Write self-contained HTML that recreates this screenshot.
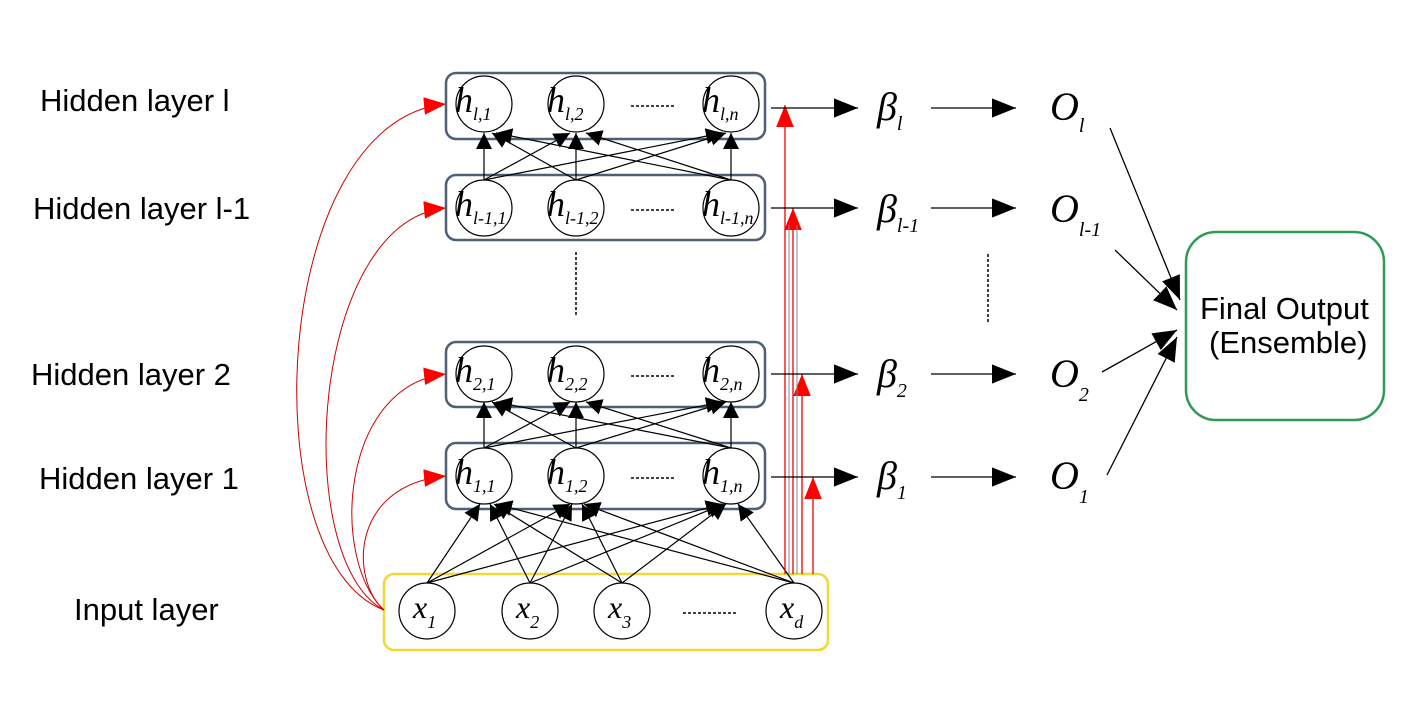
<!DOCTYPE html>
<html><head><meta charset="utf-8"><style>
html,body{margin:0;padding:0;background:#fff;}
svg{display:block}
.lbl{font-family:"Liberation Sans",sans-serif;font-size:31px;fill:#000}
.m{font-family:"Liberation Serif",serif;font-style:italic;fill:#000}
</style></head><body>
<svg width="1417" height="709" viewBox="0 0 1417 709" xmlns="http://www.w3.org/2000/svg">
<defs>
<marker id="a" viewBox="0 0 10 10" refX="10" refY="5" markerWidth="16" markerHeight="16" markerUnits="userSpaceOnUse" orient="auto"><path d="M0,0L10,5L0,10z" fill="#000"/></marker>
<marker id="b" viewBox="0 0 10 10" refX="10" refY="5" markerWidth="24" markerHeight="24" markerUnits="userSpaceOnUse" orient="auto"><path d="M0,1L10,5L0,9z" fill="#000"/></marker>
<marker id="r" viewBox="0 0 10 10" refX="10" refY="5" markerWidth="22" markerHeight="22" markerUnits="userSpaceOnUse" orient="auto"><path d="M0,1L10,5L0,9z" fill="#f00"/></marker>
</defs>
<rect width="1417" height="709" fill="#fff"/>
<g class="lbl">
<text x="40" y="111">Hidden layer l</text>
<text x="33" y="219">Hidden layer l-1</text>
<text x="31" y="385">Hidden layer 2</text>
<text x="39" y="489">Hidden layer 1</text>
<text x="74" y="620">Input layer</text>
</g>
<g fill="none" stroke="#4f5f75" stroke-width="2.5">
<rect x="446" y="73" width="319" height="66" rx="10"/>
<rect x="446" y="175" width="319" height="65" rx="10"/>
<rect x="446" y="342" width="319" height="65" rx="10"/>
<rect x="446" y="443" width="319" height="66" rx="10"/>
</g>
<rect x="384" y="574" width="444" height="76" rx="10" fill="none" stroke="#f0d838" stroke-width="2.5"/>
<rect x="1186" y="232" width="198" height="188" rx="30" fill="none" stroke="#2e9a55" stroke-width="2.5"/>
<g stroke="#000" stroke-width="1.2" marker-end="url(#a)">
<line x1="484" y1="180" x2="484" y2="133"/><line x1="484" y1="180" x2="570" y2="133"/><line x1="484" y1="180" x2="722" y2="133"/>
<line x1="576" y1="180" x2="492" y2="133"/><line x1="576" y1="180" x2="576" y2="133"/><line x1="576" y1="180" x2="726" y2="133"/>
<line x1="731" y1="180" x2="496" y2="133"/><line x1="731" y1="180" x2="586" y2="133"/><line x1="731" y1="180" x2="731" y2="133"/>
<line x1="484" y1="448" x2="484" y2="402"/><line x1="484" y1="448" x2="570" y2="402"/><line x1="484" y1="448" x2="722" y2="402"/>
<line x1="576" y1="448" x2="492" y2="402"/><line x1="576" y1="448" x2="576" y2="402"/><line x1="576" y1="448" x2="726" y2="402"/>
<line x1="731" y1="448" x2="496" y2="402"/><line x1="731" y1="448" x2="586" y2="402"/><line x1="731" y1="448" x2="731" y2="402"/>
<line x1="427" y1="583" x2="480" y2="504"/><line x1="427" y1="583" x2="570" y2="504"/><line x1="427" y1="583" x2="722" y2="504"/>
<line x1="530" y1="583" x2="490" y2="504"/><line x1="530" y1="583" x2="572" y2="504"/><line x1="530" y1="583" x2="724" y2="504"/>
<line x1="622" y1="583" x2="494" y2="504"/><line x1="622" y1="583" x2="582" y2="504"/><line x1="622" y1="583" x2="726" y2="504"/>
<line x1="794" y1="583" x2="496" y2="504"/><line x1="794" y1="583" x2="584" y2="504"/><line x1="794" y1="583" x2="738" y2="504"/>
</g>
<g fill="#fff" stroke="#000" stroke-width="1.2">
<circle cx="484" cy="104" r="28"/><circle cx="576" cy="104" r="28"/><circle cx="731" cy="104" r="28"/>
<circle cx="484" cy="208" r="28"/><circle cx="576" cy="208" r="28"/><circle cx="731" cy="208" r="28"/>
<circle cx="484" cy="374" r="28"/><circle cx="576" cy="374" r="28"/><circle cx="731" cy="374" r="28"/>
<circle cx="484" cy="476" r="28"/><circle cx="576" cy="476" r="28"/><circle cx="731" cy="476" r="28"/>
<circle cx="427" cy="611" r="28"/><circle cx="530" cy="611" r="28"/><circle cx="622" cy="611" r="28"/><circle cx="794" cy="611" r="28"/>
</g>
<g class="m" font-size="36">
<text x="455" y="112">h<tspan font-size="18" dy="8">l,1</tspan></text>
<text x="547" y="112">h<tspan font-size="18" dy="8">l,2</tspan></text>
<text x="702" y="112">h<tspan font-size="18" dy="8">l,n</tspan></text>
<text x="455" y="216">h<tspan font-size="18" dy="8">l-1,1</tspan></text>
<text x="547" y="216">h<tspan font-size="18" dy="8">l-1,2</tspan></text>
<text x="702" y="216">h<tspan font-size="18" dy="8">l-1,n</tspan></text>
<text x="455" y="382">h<tspan font-size="18" dy="8">2,1</tspan></text>
<text x="547" y="382">h<tspan font-size="18" dy="8">2,2</tspan></text>
<text x="702" y="382">h<tspan font-size="18" dy="8">2,n</tspan></text>
<text x="455" y="484">h<tspan font-size="18" dy="8">1,1</tspan></text>
<text x="547" y="484">h<tspan font-size="18" dy="8">1,2</tspan></text>
<text x="702" y="484">h<tspan font-size="18" dy="8">1,n</tspan></text>
<text x="413" y="618" font-size="32">x<tspan font-size="18" dy="10">1</tspan></text>
<text x="516" y="618" font-size="32">x<tspan font-size="18" dy="10">2</tspan></text>
<text x="608" y="618" font-size="32">x<tspan font-size="18" dy="10">3</tspan></text>
<text x="780" y="618" font-size="32">x<tspan font-size="18" dy="10">d</tspan></text>
</g>
<g stroke="#000" stroke-width="1.5" stroke-dasharray="3,2">
<line x1="631" y1="106" x2="676" y2="106"/><line x1="631" y1="210" x2="676" y2="210"/>
<line x1="631" y1="376" x2="676" y2="376"/><line x1="631" y1="478" x2="676" y2="478"/>
<line x1="683" y1="613" x2="738" y2="613"/>
<line x1="576" y1="252" x2="576" y2="316"/><line x1="988" y1="254" x2="988" y2="322"/>
</g>
<g stroke="#e00" stroke-width="1.3" fill="none" marker-end="url(#r)">
<line x1="785" y1="574" x2="785" y2="105"/>
<line x1="793" y1="574" x2="793" y2="208"/>
<line x1="802" y1="574" x2="802" y2="374"/>
<line x1="813" y1="574" x2="813" y2="477"/>
</g>
<g stroke="#888" stroke-width="1"><line x1="789" y1="574" x2="789" y2="225"/><line x1="797" y1="574" x2="797" y2="225"/></g>
<g stroke="#c00" stroke-width="1" fill="none" marker-end="url(#r)">
<path d="M384,610 C250,560 270,120 446,104"/>
<path d="M384,610 C290,560 310,220 446,208"/>
<path d="M384,610 C330,560 340,385 446,374"/>
<path d="M384,610 C350,580 350,485 446,476"/>
</g>
<g stroke="#000" stroke-width="1.3" marker-end="url(#b)">
<line x1="771" y1="108" x2="858" y2="108"/><line x1="771" y1="208" x2="858" y2="208"/>
<line x1="771" y1="374" x2="858" y2="374"/><line x1="771" y1="477" x2="858" y2="477"/>
<line x1="931" y1="108" x2="1016" y2="108"/><line x1="931" y1="208" x2="1016" y2="208"/>
<line x1="931" y1="374" x2="1016" y2="374"/><line x1="931" y1="477" x2="1016" y2="477"/>
<line x1="1110" y1="128" x2="1180" y2="300"/><line x1="1115" y1="250" x2="1177" y2="310"/>
<line x1="1102" y1="372" x2="1177" y2="330"/><line x1="1107" y1="475" x2="1177" y2="337"/>
</g>
<g class="m" font-size="40">
<text x="877" y="120">β<tspan font-size="20" dy="10">l</tspan></text>
<text x="877" y="222">β<tspan font-size="20" dy="10">l-1</tspan></text>
<text x="877" y="387">β<tspan font-size="20" dy="10">2</tspan></text>
<text x="877" y="489">β<tspan font-size="20" dy="10">1</tspan></text>
<text x="1050" y="120">O<tspan font-size="20" dy="12">l</tspan></text>
<text x="1050" y="222">O<tspan font-size="20" dy="14">l-1</tspan></text>
<text x="1050" y="387">O<tspan font-size="20" dy="14">2</tspan></text>
<text x="1050" y="489">O<tspan font-size="20" dy="14">1</tspan></text>
</g>
<g class="lbl" font-size="28"><text x="1200" y="319">Final Output</text><text x="1209" y="353">(Ensemble)</text></g>
</svg>
</body></html>
